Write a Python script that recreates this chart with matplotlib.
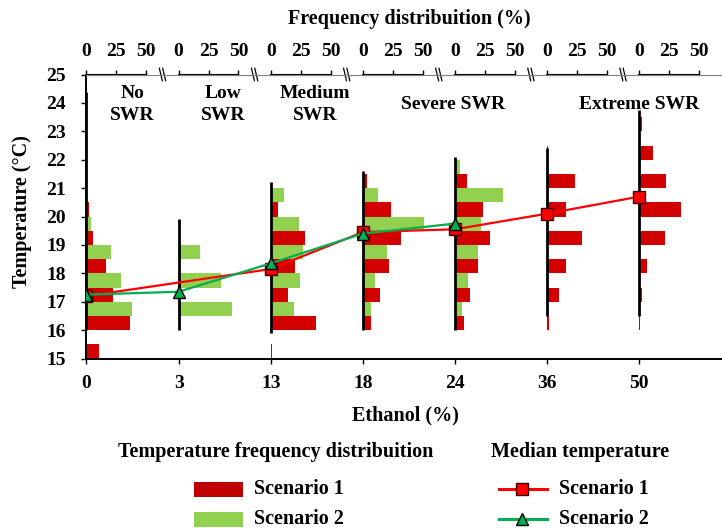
import matplotlib.pyplot as plt
import numpy as np
from matplotlib.lines import Line2D
from matplotlib.patches import Rectangle

plt.rcParams["font.family"] = ["Liberation Serif", "DejaVu Serif"]
plt.rcParams["font.weight"] = "bold"

# ethanol levels (categorical x axis)
ethanol = ["0", "3", "13", "18", "24", "36", "50"]
regimes = ["No\nSWR", "Low\nSWR", "Medium\nSWR", "Severe SWR", "Extreme SWR"]

# lower edge of each 1 °C temperature bin
bins = [15, 16, 17, 18, 19, 20, 21, 22, 23]

# frequency (%) per bin, one row per ethanol level
freq_s1 = [
    [10.3, 36.0, 22.5, 16.3, 5.8, 1.7, 0, 0, 0],
    [0, 0, 0, 0, 0, 0, 0, 0, 0],
    [0.8, 38.1, 14.2, 20.3, 28.3, 5.8, 0, 0, 0],
    [0.5, 6.9, 14.4, 21.9, 31.7, 23.6, 3.3, 0, 0],
    [0, 7.5, 12.5, 19.4, 29.7, 23.6, 9.7, 0.4, 0],
    [0, 2.0, 10.3, 15.8, 29.2, 15.8, 23.6, 0.6, 0],
    [0, 0.4, 2.8, 6.7, 21.4, 34.7, 22.2, 11.2, 2.0],
]
freq_s2 = [
    [0, 38.3, 28.8, 20.3, 3.8, 0, 0, 0, 0],
    [0.4, 45.0, 35.3, 18.0, 0.4, 0, 0, 0, 0],
    [0, 19.7, 24.7, 27.0, 23.9, 11.4, 0.5, 0, 0],
    [0, 7.2, 10.6, 20.0, 51.4, 12.5, 0.5, 0, 0],
    [0.4, 5.6, 10.6, 18.9, 22.2, 40.3, 4.2, 0, 0],
    [0, 0, 0, 0, 0, 0, 0, 0, 0],
    [0, 0, 0, 0, 0, 0, 0, 0, 0],
]

# median temperature (°C)
med_s1 = [17.2, np.nan, 18.15, 19.45, 19.55, 20.1, 20.7]
med_s2 = [17.25, 17.35, 18.35, 19.4, 19.75, np.nan, np.nan]

# temperature range lines
t_min = [16.0, 16.0, 15.9, 16.0, 16.0, 16.5, 16.5]
t_max = [24.4, 19.9, 21.2, 21.6, 22.1, 22.4, 23.75]

RED_BAR = "#D20000"
GREEN_BAR = "#92D050"
RED_LINE = "#FF0000"
GREEN_LINE = "#00B050"
PCT = 0.65 / 50  # category units per percent
FS = 14

fig = plt.figure(figsize=(7.22, 5.28), dpi=100)
ax = fig.add_axes([0.1198, 0.3210, 0.8802, 0.5379])

xs = np.arange(len(ethanol))
for i in xs:
    w1 = [v * PCT for v in freq_s1[i]]
    w2 = [v * PCT for v in freq_s2[i]]
    ax.barh([b + 0.25 for b in bins], w1, height=0.5, left=i,
            color=RED_BAR, lw=0, zorder=2)
    ax.barh([b + 0.75 for b in bins], w2, height=0.5, left=i,
            color=GREEN_BAR, lw=0, zorder=2)

ax.vlines(xs, t_min, t_max, color="black", lw=2, zorder=3)

m1 = ~np.isnan(med_s1)
m2 = ~np.isnan(med_s2)
ax.plot(xs[m1], np.array(med_s1)[m1], color=RED_LINE, lw=1.6, marker="s",
        ms=8, mfc=RED_LINE, mec="#3a0000", mew=1, zorder=4)
ax.plot(xs[m2], np.array(med_s2)[m2], color=GREEN_LINE, lw=1.6, marker="^",
        ms=8.5, mfc=GREEN_LINE, mec="black", mew=1, zorder=5)

ax.set_xlim(0, 6.9)
ax.set_ylim(15, 25)
ax.set_xticks(xs)
ax.set_xticklabels(ethanol)
ax.set_yticks(range(15, 26))
ax.tick_params(axis="x", direction="out", length=3.6, width=1, pad=8.4, labelsize=FS)
ax.tick_params(axis="y", direction="out", length=3.6, width=1, pad=11.4, labelsize=FS)
ax.spines["right"].set_visible(False)
ax.spines["top"].set_visible(False)
for s in ("left", "bottom"):
    ax.spines[s].set_linewidth(1.4)

# frequency scale on top of each group
ax2 = ax.twiny()
ax2.set_xlim(ax.get_xlim())
top_ticks = [i + p * PCT for i in xs for p in (0, 25, 50)]
ax2.set_xticks(top_ticks)
ax2.set_xticklabels(["0", "25", "50"] * len(xs))
ax2.tick_params(axis="x", direction="out", length=3.6, width=1, pad=6.8, labelsize=FS)
for s in ("left", "right", "bottom"):
    ax2.spines[s].set_visible(False)
ax2.spines["top"].set_color("#808080")
ax2.spines["top"].set_linewidth(0.8)
tr = ax2.get_xaxis_transform()
for i in xs:
    ax2.plot([i, i + 50 * PCT], [1, 1], transform=tr, color="black",
             lw=1.5, clip_on=False)
for i in xs[:-1]:
    xc = i + (50 * PCT + 1) / 2
    for off in (-0.018, 0.018):
        ax2.plot([xc + off - 0.016, xc + off + 0.016], [1.022, 0.978],
                 transform=tr, color="black", lw=0.9, clip_on=False)

# regime labels
for x, lab in zip([0.5, 1.48, 2.48, 3.98, 6.0], regimes):
    ax.text(x, 23.95, lab, ha="center", va="center", fontsize=FS,
            fontweight="bold", multialignment="center", linespacing=1.35)

fig.text(409 / 722, 1 - 19 / 528, "Frequency distribuition (%)",
         ha="center", va="center", fontsize=FS + 0.5, fontweight="bold")
fig.text(405 / 722, 1 - 415 / 528, "Ethanol (%)",
         ha="center", va="center", fontsize=FS + 0.5, fontweight="bold")
fig.text(22 / 722, 1 - 212 / 528, "Temperature (°C)", rotation=90,
         ha="center", va="center", fontsize=FS + 0.5, fontweight="bold")

# legends
fig.text(276 / 722, 1 - 452 / 528, "Temperature frequency distribuition",
         ha="center", va="center", fontsize=FS + 0.5, fontweight="bold")
fig.text(580 / 722, 1 - 452 / 528, "Median temperature",
         ha="center", va="center", fontsize=FS + 0.5, fontweight="bold")

for yc, col, lab in [(489, "#C00000", "Scenario 1"), (519, GREEN_BAR, "Scenario 2")]:
    fig.patches.append(Rectangle((194 / 722, 1 - (yc + 7.5) / 528), 49 / 722,
                                 15 / 528, transform=fig.transFigure,
                                 color=col, lw=0))
    fig.text(254 / 722, 1 - yc / 528, lab, ha="left", va="center",
             fontsize=FS + 0.5, fontweight="bold")

for yc, col, mk, mec, lab in [(489, RED_LINE, "s", "#3a0000", "Scenario 1"),
                              (519, GREEN_LINE, "^", "black", "Scenario 2")]:
    y = 1 - yc / 528
    fig.lines.append(Line2D([499 / 722, 547 / 722], [y, y],
                            transform=fig.transFigure, color=col, lw=2.2))
    fig.lines.append(Line2D([522 / 722], [y], transform=fig.transFigure,
                            marker=mk, ms=8, mfc=col, mec=mec, mew=1, lw=0))
    fig.text(559 / 722, y, lab, ha="left", va="center",
             fontsize=FS + 0.5, fontweight="bold")

fig.savefig("out.png", dpi=100)
